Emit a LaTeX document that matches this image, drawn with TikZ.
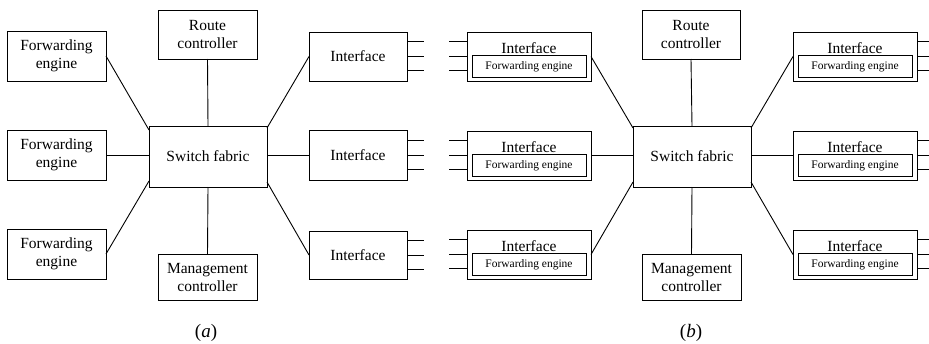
\documentclass[tikz,border=0pt]{standalone}
\usepackage{fontspec}
\setmainfont{Liberation Serif}
\usetikzlibrary{calc}
\begin{document}
\begin{tikzpicture}[x=1pt,y=-1pt,
  box/.style={draw, line width=0.9pt, inner sep=0pt, outer sep=0pt, align=center,
    font=\fontsize{15.5}{18}\selectfont},
  smallbox/.style={box, minimum width=114pt, minimum height=22pt,
    font=\fontsize{11.5}{13}\selectfont},
  plain/.style={inner sep=0pt, outer sep=0pt, font=\fontsize{15.5}{18}\selectfont},
  caption/.style={inner sep=0pt, outer sep=0pt, font=\fontsize{19}{22}\selectfont},
  wire/.style={line width=0.9pt}]
\useasboundingbox (0,0) rectangle (929,343);

% ---------- (a) separate forwarding engines ----------
\node[box, minimum width=99pt, minimum height=50pt] (fea1) at (56.5,56) {Forwarding\\engine};
\node[box, minimum width=99pt, minimum height=50pt] (fea2) at (56.5,155) {Forwarding\\engine};
\node[box, minimum width=99pt, minimum height=50pt] (fea3) at (56.5,254) {Forwarding\\engine};
\node[box, minimum width=99pt, minimum height=49pt] (rca) at (207.5,34.5) {Route\\controller};
\node[box, minimum width=118pt, minimum height=61pt] (sfa) at (208,156.5) {Switch fabric};
\node[box, minimum width=99pt, minimum height=46pt] (mca) at (207.5,277) {Management\\controller};
\node[box, minimum width=98pt, minimum height=49pt] (ifa1) at (358,56.5) {Interface};
\node[box, minimum width=98pt, minimum height=50pt] (ifa2) at (358,155) {Interface};
\node[box, minimum width=98pt, minimum height=48pt] (ifa3) at (358,255) {Interface};

\draw[wire] (fea1.east) -- ($(sfa.north west)+(0,4)$);
\draw[wire] (fea2.east) -- (fea2.east -| sfa.west);
\draw[wire] (fea3.east) -- ($(sfa.south west)+(0,-6)$);
\draw[wire] (rca.south) -- (sfa.north);
\draw[wire] (mca.north) -- (sfa.south);
\draw[wire] (ifa1.west) -- ($(sfa.north east)+(0,2)$);
\draw[wire] (sfa.east |- ifa2.west) -- (ifa2.west);
\draw[wire] (ifa3.west) -- ($(sfa.south east)+(0,-5)$);

% ports of the interfaces
\foreach \i in {1,2,3} {
  \foreach \k/\dy in {p/-15,q/0,r/14} {
    \coordinate (ifa\i\k) at ($(ifa\i.east)+(17,\dy)$);
    \draw[wire] ($(ifa\i.east)+(0,\dy)$) -- (ifa\i\k);
  }
}

\node[caption] (capa) at (206,333) {(\textit{a})};

% ---------- (b) forwarding engines inside the interfaces ----------
\node[box, minimum width=98pt, minimum height=49pt] (rcb) at (691,34.5) {Route\\controller};
\node[box, minimum width=118pt, minimum height=61pt] (sfb) at (692,156.5) {Switch fabric};
\node[box, minimum width=99pt, minimum height=46pt] (mcb) at (691.5,277) {Management\\controller};

\foreach \n/\x/\y in {l1/529/56.5, l2/529/155.5, l3/529/254.5,
                      r1/855/56.5, r2/855/155.5, r3/855/254.5} {
  \node[box, minimum width=124pt, minimum height=49pt] (if\n) at (\x,\y) {};
  \node[plain] (ift\n) at (\x,\y-8.5) {Interface};
  \node[smallbox] (fe\n) at (\x,\y+10) {Forwarding engine};
}

\draw[wire] (ifl1.east) -- ($(sfb.north west)+(0,2)$);
\draw[wire] (ifl2.east) -- (ifl2.east -| sfb.west);
\draw[wire] (ifl3.east) -- ($(sfb.south west)+(0,-5)$);
\draw[wire] (rcb.south) -- (sfb.north);
\draw[wire] (mcb.north) -- (sfb.south);
\draw[wire] (ifr1.west) -- ($(sfb.north east)+(0,2)$);
\draw[wire] (sfb.east |- ifr2.west) -- (ifr2.west);
\draw[wire] (ifr3.west) -- ($(sfb.south east)+(0,-5)$);

% ports of the interfaces
\foreach \i in {1,2,3} {
  \foreach \k/\dy in {p/-15,q/0,r/14} {
    \coordinate (ifl\i\k) at ($(ifl\i.west)+(-18,\dy)$);
    \draw[wire] (ifl\i\k) -- ($(ifl\i.west)+(0,\dy)$);
    \coordinate (ifr\i\k) at ($(ifr\i.east)+(13,\dy)$);
    \draw[wire] ($(ifr\i.east)+(0,\dy)$) -- (ifr\i\k);
  }
}

\node[caption] (capb) at (691,333) {(\textit{b})};
\end{tikzpicture}
\end{document}
